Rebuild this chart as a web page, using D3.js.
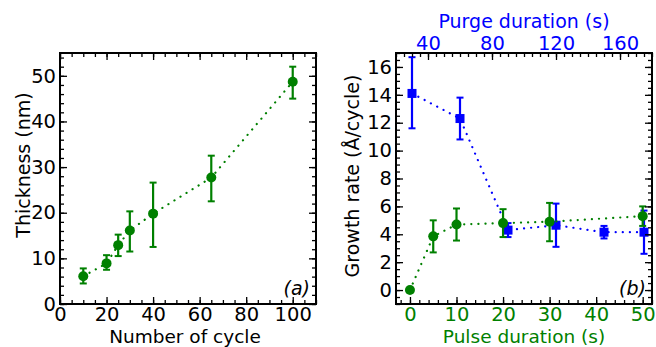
<!DOCTYPE html>
<html>
<head>
<meta charset="utf-8">
<script src="https://cdn.jsdelivr.net/npm/d3@7"></script>
<style>
  body { margin: 0; background: #fff; }
  text { font-family: "DejaVu Sans", sans-serif; }
</style>
</head>
<body>
<div id="chart"></div>
<script>
// panel (a): thickness vs number of cycles
const cycles = [10, 20, 25, 30, 40, 65, 100];
const thickness = [6.1, 8.9, 12.9, 16.1, 19.8, 27.7, 48.7];
const thickLow = [4.5, 7.5, 10.5, 11.5, 12.5, 22.5, 45.0];
const thickHigh = [7.8, 10.7, 15.2, 20.3, 26.6, 32.5, 52.0];

// panel (b): growth rate vs pulse duration (green, bottom axis)
const pulse = [0, 5, 10, 20, 30, 50];
const ratePulse = [0, 3.85, 4.7, 4.8, 4.9, 5.3];
const ratePulseLow = [0, 2.7, 3.55, 3.8, 3.5, 4.6];
const ratePulseHigh = [0, 5.0, 5.85, 5.8, 6.25, 6.0];

// panel (b): growth rate vs purge duration (blue, top axis)
const purge = [30, 60, 90, 120, 150, 175];
const ratePurge = [14.1, 12.3, 4.3, 4.65, 4.15, 4.15];
const ratePurgeLow = [11.6, 10.8, 3.8, 3.1, 3.7, 2.6];
const ratePurgeHigh = [16.7, 13.8, 4.8, 6.2, 4.6, 5.7];

const green = "#008000";
const blue = "#0000ff";
const fs = 19.5;
const lfs = 19;

const svg = d3.select("#chart").append("svg")
    .attr("width", 656)
    .attr("height", 347);

// helper: ticks pointing inward on all four sides
function frameAxes(g, x, y, w, h, opt) {
    const major = 7, minor = 4;
    const xb = d3.axisBottom(x).tickValues(opt.xMajor).tickSize(-major).tickPadding(3);
    const xbm = d3.axisBottom(x).tickValues(opt.xMinor).tickSize(-minor).tickFormat("");
    const yl = d3.axisLeft(y).tickValues(opt.yMajor).tickSize(-major).tickPadding(4);
    const ylm = d3.axisLeft(y).tickValues(opt.yMinor).tickSize(-minor).tickFormat("");
    const yr = d3.axisRight(y).tickValues(opt.yMajor).tickSize(-major).tickFormat("");
    const yrm = d3.axisRight(y).tickValues(opt.yMinor).tickSize(-minor).tickFormat("");

    const gx = g.append("g").attr("transform", "translate(0," + h + ")").call(xb);
    gx.selectAll("text").attr("fill", opt.xColor);
    g.append("g").attr("transform", "translate(0," + h + ")").call(xbm);
    g.append("g").call(yl);
    g.append("g").call(ylm);
    g.append("g").attr("transform", "translate(" + w + ",0)").call(yr);
    g.append("g").attr("transform", "translate(" + w + ",0)").call(yrm);

    if (opt.top) {
        const xt = d3.axisTop(opt.top).tickValues(opt.topMajor).tickSize(-major).tickPadding(3);
        const xtm = d3.axisTop(opt.top).tickValues(opt.topMinor).tickSize(-minor).tickFormat("");
        const gt = g.append("g").call(xt);
        gt.selectAll("text").attr("fill", opt.topColor);
        g.append("g").call(xtm);
    } else {
        g.append("g").call(d3.axisTop(x).tickValues(opt.xMajor).tickSize(-major).tickFormat(""));
        g.append("g").call(d3.axisTop(x).tickValues(opt.xMinor).tickSize(-minor).tickFormat(""));
    }

    g.selectAll(".domain").remove();
    g.selectAll(".tick line").attr("stroke", "#000").attr("stroke-width", 1.3);
    g.selectAll(".tick text").style("font-size", fs + "px").style("font-family", "DejaVu Sans");

    g.append("rect")
        .attr("width", w).attr("height", h)
        .attr("fill", "none").attr("stroke", "#000").attr("stroke-width", 2);
}

function drawSeries(g, x, y, xs, ys, lo, hi, color, shape) {
    const pts = xs.map((v, i) => ({ x: v, y: ys[i], lo: lo[i], hi: hi[i] }));
    g.append("path")
        .datum(pts)
        .attr("d", d3.line().x(d => x(d.x)).y(d => y(d.y)))
        .attr("fill", "none")
        .attr("stroke", color)
        .attr("stroke-width", 2.2)
        .attr("stroke-linecap", "round")
        .attr("stroke-dasharray", "0.1,7");

    const eb = g.selectAll(null).data(pts.filter(d => d.hi > d.lo)).enter().append("g");
    eb.append("line")
        .attr("x1", d => x(d.x)).attr("x2", d => x(d.x))
        .attr("y1", d => y(d.lo)).attr("y2", d => y(d.hi))
        .attr("stroke", color).attr("stroke-width", 2.2);
    eb.append("line")
        .attr("x1", d => x(d.x) - 3.5).attr("x2", d => x(d.x) + 3.5)
        .attr("y1", d => y(d.lo)).attr("y2", d => y(d.lo))
        .attr("stroke", color).attr("stroke-width", 2);
    eb.append("line")
        .attr("x1", d => x(d.x) - 3.5).attr("x2", d => x(d.x) + 3.5)
        .attr("y1", d => y(d.hi)).attr("y2", d => y(d.hi))
        .attr("stroke", color).attr("stroke-width", 2);

    if (shape === "square") {
        g.selectAll(null).data(pts).enter().append("rect")
            .attr("x", d => x(d.x) - 4.5).attr("y", d => y(d.y) - 4.5)
            .attr("width", 9).attr("height", 9)
            .attr("fill", color);
    } else {
        g.selectAll(null).data(pts).enter().append("circle")
            .attr("cx", d => x(d.x)).attr("cy", d => y(d.y))
            .attr("r", 5)
            .attr("fill", color);
    }
}

// ---- panel (a)
const wA = 256, hA = 251;
const gA = svg.append("g").attr("transform", "translate(60,53)");
const xA = d3.scaleLinear().domain([0, 110]).range([0, wA]);
const yA = d3.scaleLinear().domain([0, 55]).range([hA, 0]);

drawSeries(gA, xA, yA, cycles, thickness, thickLow, thickHigh, green, "circle");
frameAxes(gA, xA, yA, wA, hA, {
    xMajor: d3.range(0, 101, 20),
    xMinor: d3.range(0, 111, 5),
    yMajor: d3.range(0, 51, 10),
    yMinor: d3.range(0, 55, 2),
    xColor: "#000"
});

gA.append("text")
    .attr("x", 125).attr("y", 289.5)
    .attr("text-anchor", "middle")
    .style("font-size", "18.5px")
    .text("Number of cycle");
gA.append("text")
    .attr("transform", "translate(-30," + 112 + ") rotate(-90)")
    .attr("text-anchor", "middle")
    .style("font-size", lfs + "px")
    .text("Thickness (nm)");
gA.append("text")
    .attr("x", wA - 6).attr("y", hA - 9)
    .attr("text-anchor", "end")
    .style("font-size", lfs + "px")
    .style("font-style", "italic")
    .text("(a)");

// ---- panel (b)
const wB = 256, hB = 251;
const gB = svg.append("g").attr("transform", "translate(396,53)");
const xB = d3.scaleLinear().domain([-3, 52]).range([0, wB]);
const xTop = d3.scaleLinear().domain([20, 180]).range([0, wB]);
const yB = d3.scaleLinear().domain([-1, 17]).range([hB, 0]);

drawSeries(gB, xTop, yB, purge, ratePurge, ratePurgeLow, ratePurgeHigh, blue, "square");
drawSeries(gB, xB, yB, pulse, ratePulse, ratePulseLow, ratePulseHigh, green, "circle");
frameAxes(gB, xB, yB, wB, hB, {
    xMajor: d3.range(0, 51, 10),
    xMinor: d3.range(-2, 53, 2),
    yMajor: d3.range(0, 17, 2),
    yMinor: d3.range(-1, 17.01, 0.5),
    xColor: green,
    top: xTop,
    topMajor: [40, 80, 120, 160],
    topMinor: d3.range(20, 181, 5),
    topColor: blue
});

gB.append("text")
    .attr("x", wB / 2).attr("y", 289.5)
    .attr("text-anchor", "middle")
    .attr("fill", green)
    .style("font-size", "18.5px")
    .text("Pulse duration (s)");
gB.append("text")
    .attr("x", wB / 2).attr("y", -25)
    .attr("text-anchor", "middle")
    .attr("fill", blue)
    .style("font-size", lfs + "px")
    .text("Purge duration (s)");
gB.append("text")
    .attr("transform", "translate(-37," + 123 + ") rotate(-90)")
    .attr("text-anchor", "middle")
    .style("font-size", lfs + "px")
    .text("Growth rate (Å/cycle)");
gB.append("text")
    .attr("x", wB - 6).attr("y", hB - 9)
    .attr("text-anchor", "end")
    .style("font-size", lfs + "px")
    .style("font-style", "italic")
    .text("(b)");
</script>
</body>
</html>
